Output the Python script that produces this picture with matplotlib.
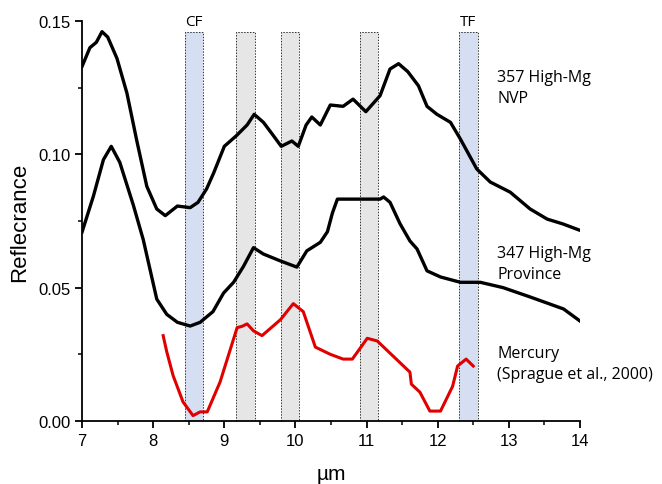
import matplotlib
matplotlib.use('Agg')
import matplotlib.pyplot as plt
from matplotlib.ticker import MultipleLocator

# spectra (wavelength in um, reflectance)
nvp_x = [7.0, 7.11, 7.2, 7.28, 7.36, 7.49, 7.63, 7.77, 7.91, 8.05, 8.17, 8.34, 8.52, 8.63, 8.75, 8.85,
         9.0, 9.17, 9.32, 9.42, 9.55, 9.69, 9.8, 9.95, 10.04, 10.15, 10.23, 10.35, 10.49, 10.67,
         10.81, 10.99, 11.19, 11.33, 11.45, 11.58, 11.73, 11.85, 11.99, 12.18, 12.32, 12.55,
         12.74, 13.02, 13.3, 13.54, 13.76, 14.0]
nvp_y = [0.133, 0.140, 0.142, 0.146, 0.144, 0.136, 0.123, 0.105, 0.088, 0.0795, 0.077, 0.0806,
         0.080, 0.082, 0.087, 0.093, 0.103, 0.107, 0.111, 0.115, 0.112, 0.107, 0.103, 0.105,
         0.103, 0.111, 0.114, 0.111, 0.1185, 0.118, 0.1207, 0.116, 0.122, 0.132, 0.134, 0.131,
         0.1257, 0.118, 0.115, 0.112, 0.1057, 0.0945, 0.0896, 0.0858, 0.0795, 0.0757, 0.0739, 0.0715]

prov_x = [7.0, 7.16, 7.3, 7.41, 7.53, 7.72, 7.86, 8.05, 8.19, 8.34, 8.52, 8.66, 8.84, 8.99, 9.13,
          9.27, 9.41, 9.55, 9.79, 10.02, 10.16, 10.35, 10.45, 10.52, 10.59, 10.9, 11.19, 11.24,
          11.33, 11.47, 11.61, 11.71, 11.85, 12.04, 12.32, 12.6, 12.92, 13.3, 13.77, 14.0]
prov_y = [0.0709, 0.0844, 0.098, 0.103, 0.097, 0.081, 0.068, 0.0457, 0.040, 0.037, 0.0356, 0.037,
          0.041, 0.048, 0.052, 0.058, 0.065, 0.0626, 0.060, 0.0577, 0.0638, 0.067, 0.071, 0.078,
          0.0832, 0.0832, 0.0832, 0.084, 0.082, 0.074, 0.0675, 0.0645, 0.0563, 0.054, 0.052, 0.052,
          0.050, 0.0465, 0.042, 0.0375]

merc_x = [8.14, 8.19, 8.28, 8.42, 8.56, 8.66, 8.76, 8.94, 9.18, 9.25, 9.32, 9.41, 9.53, 9.79,
          9.97, 10.11, 10.28, 10.49, 10.67, 10.8, 11.01, 11.15, 11.61, 11.63, 11.75, 11.89,
          12.04, 12.21, 12.28, 12.4, 12.5]
merc_y = [0.032, 0.026, 0.017, 0.0071, 0.002, 0.0034, 0.0034, 0.0146, 0.035, 0.0355, 0.0364,
          0.0338, 0.032, 0.038, 0.044, 0.041, 0.0277, 0.025, 0.0232, 0.0232, 0.031, 0.030,
          0.0183, 0.0138, 0.0108, 0.0037, 0.0037, 0.013, 0.0206, 0.0232, 0.0206]

# feature bands: (start, end, kind)
band_lo = [8.45, 9.17, 9.80, 10.91, 12.30]
band_hi = [8.70, 9.43, 10.05, 11.16, 12.56]
band_kind = ['blue', 'gray', 'gray', 'gray', 'blue']
band_top = 0.146

fig = plt.figure(figsize=(6.62, 4.85), dpi=100)
ax = fig.add_axes([0.124, 0.13, 0.752, 0.8246])

for lo, hi, kind in zip(band_lo, band_hi, band_kind):
    col = '#d5dff1' if kind == 'blue' else '#e6e6e6'
    ax.fill_between([lo, hi], 0, band_top, color=col, lw=0, zorder=1)
    ax.plot([lo, lo, hi, hi], [0, band_top, band_top, 0], color='#333333', lw=0.7,
            ls=(0, (1.5, 1.5)), zorder=2)

ax.text(8.575, band_top + 0.001, 'CF', ha='center', va='bottom', fontsize=11, family='Open Sans')
ax.text(12.43, band_top + 0.001, 'TF', ha='center', va='bottom', fontsize=11, family='Open Sans')

ax.plot(nvp_x, nvp_y, color='black', lw=2.4, zorder=3)
ax.plot(prov_x, prov_y, color='black', lw=2.4, zorder=3)
ax.plot(merc_x, merc_y, color='#e00000', lw=2.2, zorder=3)

# curve labels
lab_kw = dict(fontsize=11.5, family='Open Sans', va='center', linespacing=1.4)
ax.text(12.84, 0.125, '357 High-Mg\nNVP', **lab_kw)
ax.text(12.84, 0.059, '347 High-Mg\nProvince', **lab_kw)
ax.text(12.84, 0.0215, 'Mercury\n(Sprague et al., 2000)', **lab_kw)

ax.set_xlim(7, 14)
ax.set_ylim(0, 0.15)
ax.xaxis.set_major_locator(MultipleLocator(1))
ax.xaxis.set_minor_locator(MultipleLocator(0.5))
ax.yaxis.set_major_locator(MultipleLocator(0.05))
ax.yaxis.set_minor_locator(MultipleLocator(0.025))
ax.yaxis.set_major_formatter(matplotlib.ticker.FormatStrFormatter('%.2f'))
ax.spines['top'].set_visible(False)
ax.spines['right'].set_visible(False)
ax.spines['left'].set_linewidth(1.3)
ax.spines['bottom'].set_linewidth(1.3)
ax.tick_params(which='major', direction='out', length=5, width=1.3, labelsize=12)
ax.tick_params(which='minor', direction='out', length=3, width=1.1)
for lab in ax.get_xticklabels() + ax.get_yticklabels():
    lab.set_family('Liberation Sans')

ax.set_ylabel('Reflecrance', fontsize=16, family='Liberation Sans', labelpad=6)
ax.set_xlabel('µm', fontsize=15, family='Liberation Sans', labelpad=12)

fig.savefig('out.png', dpi=100)
